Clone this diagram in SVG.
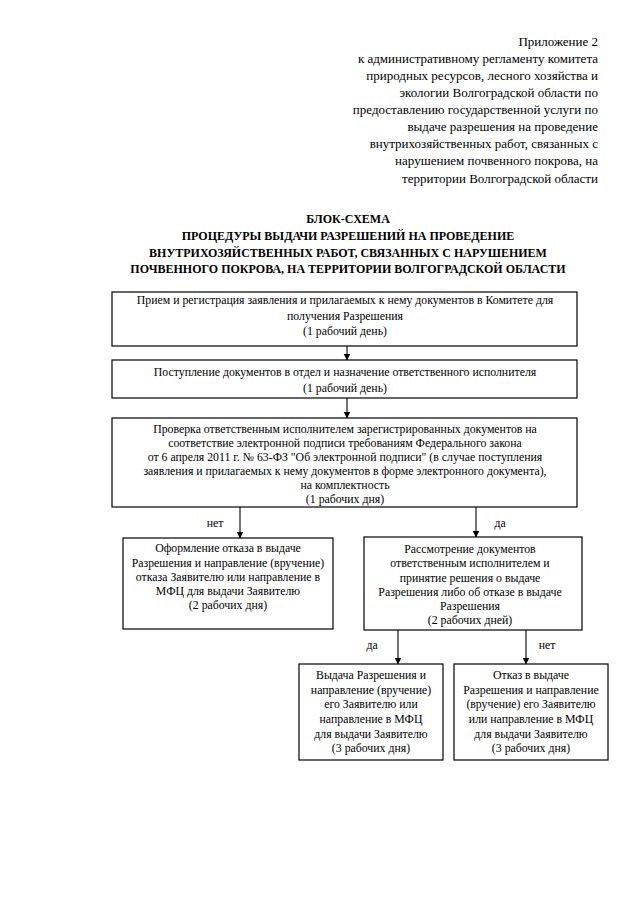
<svg xmlns="http://www.w3.org/2000/svg" width="640" height="905" viewBox="0 0 640 905">
<defs>
<marker id="ah" markerWidth="7" markerHeight="8" refX="6.5" refY="4" orient="auto" markerUnits="userSpaceOnUse">
<path d="M0,0.5 L7,4 L0,7.5 Z" fill="#000"/>
</marker>
<style>
text{font-family:"Liberation Serif","Times New Roman",serif;fill:#000}
.hd{font-size:13px;text-anchor:end}
.tt{font-size:12px;font-weight:bold;text-anchor:middle}
.bx{font-size:11.8px;text-anchor:middle}
.lb{font-size:11.8px;text-anchor:middle}
.box{fill:#fff;stroke:#000;stroke-width:1.2}
.cn{stroke:#000;stroke-width:1.1;fill:none;marker-end:url(#ah)}
</style>
</defs>
<rect width="640" height="905" fill="#fff"/>
<g id="header">
<text class="hd" x="598" y="46">Приложение 2</text>
<text class="hd" x="598" y="63">к административному регламенту комитета</text>
<text class="hd" x="598" y="80">природных ресурсов, лесного хозяйства и</text>
<text class="hd" x="598" y="97">экологии Волгоградской области по</text>
<text class="hd" x="598" y="114">предоставлению государственной услуги по</text>
<text class="hd" x="598" y="131">выдаче разрешения на проведение</text>
<text class="hd" x="598" y="148">внутрихозяйственных работ, связанных с</text>
<text class="hd" x="598" y="165">нарушением почвенного покрова, на</text>
<text class="hd" x="598" y="183">территории Волгоградской области</text>
</g>
<g id="title">
<text class="tt" x="348" y="223">БЛОК-СХЕМА</text>
<text class="tt" x="348" y="240">ПРОЦЕДУРЫ ВЫДАЧИ РАЗРЕШЕНИЙ НА ПРОВЕДЕНИЕ</text>
<text class="tt" x="348" y="257">ВНУТРИХОЗЯЙСТВЕННЫХ РАБОТ, СВЯЗАННЫХ С НАРУШЕНИЕМ</text>
<text class="tt" x="348" y="273">ПОЧВЕННОГО ПОКРОВА, НА ТЕРРИТОРИИ ВОЛГОГРАДСКОЙ ОБЛАСТИ</text>
</g>
<g id="connectors">
<line class="cn" x1="347" y1="346" x2="347" y2="360"/>
<line class="cn" x1="347" y1="398" x2="347" y2="418"/>
<line class="cn" x1="240" y1="507" x2="240" y2="538"/>
<line class="cn" x1="476" y1="507" x2="476" y2="537"/>
<line class="cn" x1="398" y1="630" x2="398" y2="664"/>
<line class="cn" x1="526" y1="630" x2="526" y2="664"/>
<text class="lb" x="215" y="527">нет</text>
<text class="lb" x="500" y="527">да</text>
<text class="lb" x="372" y="649">да</text>
<text class="lb" x="547" y="649">нет</text>
</g>
<g id="n1">
<rect class="box" x="112" y="292" width="465" height="54"/>
<text class="bx" x="345" y="304">Прием и регистрация заявления и прилагаемых к нему документов в Комитете для</text>
<text class="bx" x="345" y="320">получения Разрешения</text>
<text class="bx" x="345" y="335">(1 рабочий день)</text>
</g>
<g id="n2">
<rect class="box" x="112" y="360" width="465" height="38"/>
<text class="bx" x="345" y="376">Поступление документов в отдел и назначение ответственного исполнителя</text>
<text class="bx" x="345" y="392">(1 рабочий день)</text>
</g>
<g id="n3">
<rect class="box" x="112" y="418" width="465" height="89"/>
<text class="bx" x="345" y="433">Проверка ответственным исполнителем зарегистрированных документов на</text>
<text class="bx" x="345" y="447">соответствие электронной подписи требованиям Федерального закона</text>
<text class="bx" x="345" y="461">от 6 апреля  2011 г. № 63-ФЗ "Об электронной подписи" (в случае поступления</text>
<text class="bx" x="345" y="475">заявления и прилагаемых к нему документов в форме электронного документа),</text>
<text class="bx" x="345" y="489">на комплектность</text>
<text class="bx" x="345" y="503">(1 рабочих дня)</text>
</g>
<g id="n4">
<rect class="box" x="123" y="538" width="210" height="91"/>
<text class="bx" x="228" y="552">Оформление отказа в выдаче</text>
<text class="bx" x="228" y="567">Разрешения и направление (вручение)</text>
<text class="bx" x="228" y="581">отказа Заявителю или направление в</text>
<text class="bx" x="228" y="595">МФЦ для выдачи Заявителю</text>
<text class="bx" x="228" y="609">(2 рабочих дня)</text>
</g>
<g id="n5">
<rect class="box" x="364" y="537" width="218" height="93"/>
<text class="bx" x="470" y="553">Рассмотрение документов</text>
<text class="bx" x="470" y="567">ответственным исполнителем  и</text>
<text class="bx" x="470" y="582">принятие решения о выдаче</text>
<text class="bx" x="470" y="596">Разрешения либо об отказе в выдаче</text>
<text class="bx" x="470" y="610">Разрешения</text>
<text class="bx" x="470" y="624">(2 рабочих дней)</text>
</g>
<g id="n6">
<rect class="box" x="299" y="664" width="144" height="96"/>
<text class="bx" x="371" y="679">Выдача Разрешения и</text>
<text class="bx" x="371" y="694">направление (вручение)</text>
<text class="bx" x="371" y="708">его Заявителю или</text>
<text class="bx" x="371" y="723">направление в МФЦ</text>
<text class="bx" x="371" y="738">для выдачи Заявителю</text>
<text class="bx" x="371" y="752">(3 рабочих дня)</text>
</g>
<g id="n7">
<rect class="box" x="454" y="664" width="154" height="96"/>
<text class="bx" x="531" y="679">Отказ в выдаче</text>
<text class="bx" x="531" y="694">Разрешения и направление</text>
<text class="bx" x="531" y="708">(вручение) его Заявителю</text>
<text class="bx" x="531" y="723">или направление в МФЦ</text>
<text class="bx" x="531" y="738">для выдачи Заявителю</text>
<text class="bx" x="531" y="752">(3 рабочих дня)</text>
</g>
</svg>
